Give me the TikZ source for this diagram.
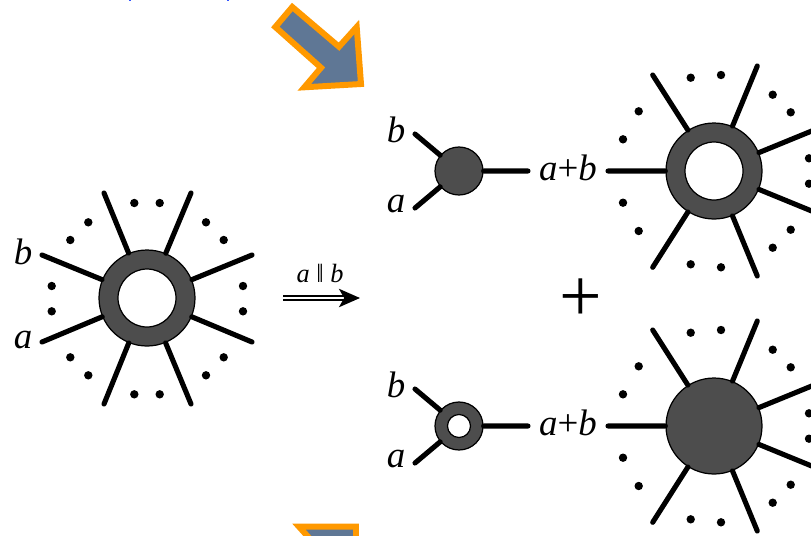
\documentclass[tikz,border=0pt]{standalone}
\usepackage{tikz}
\usepackage{xcolor}
\usepackage{fontspec}
\setmainfont{Liberation Serif}
\usetikzlibrary{arrows.meta}
\definecolor{HubGray}{HTML}{4D4D4D}
\definecolor{BlockOrange}{HTML}{FF9900}
\definecolor{BlockSlate}{HTML}{5F7795}
\definecolor{CutBlue}{HTML}{3355FF}
\tikzset{
    % Node styles
    bighub/.style={
        circle,
        draw=black,
        fill=HubGray,
        line width=0.7pt,
        inner sep=0pt,
        minimum size=1.92cm
    },
    bighole/.style={
        circle,
        draw=black,
        fill=white,
        line width=0.7pt,
        inner sep=0pt,
        minimum size=1.16cm
    },
    smallhub/.style={
        circle,
        draw=black,
        fill=HubGray,
        line width=0.7pt,
        inner sep=0pt,
        minimum size=0.96cm
    },
    smallhole/.style={
        circle,
        draw=black,
        fill=white,
        line width=0.7pt,
        inner sep=0pt,
        minimum size=0.46cm
    },
    legtext/.style={
        font=\fontsize{21}{24}\selectfont,
        inner sep=0pt
    },
    % Line styles
    leg/.style={
        line width=2.9pt,
        line cap=round,
        black
    },
    dot/.style={
        fill=black
    },
    impliesarrow/.style={
        double,
        double distance=1.1pt,
        line width=0.9pt,
        -{Stealth[length=12pt,width=10.5pt,inset=3pt]}
    },
    blockarrow/.style={
        draw=BlockOrange,
        fill=BlockSlate,
        line width=3.4pt
    }
}
\begin{document}
\begin{tikzpicture}[x=0.02cm,y=-0.02cm]
    \clip (0,0) rectangle (811,535);

    % Block arrows
    \filldraw[blockarrow] (292.3,7) -- (275.3,27) -- (321,67.7) -- (304.3,87.3)
        -- (361,84) -- (356.7,27) -- (339,46.7) -- cycle;
    \filldraw[blockarrow] (299,526.7) -- (356,526.7) -- (356,590) -- cycle;

    % Cut off marks at the top edge
    \fill[CutBlue] (129,0) rectangle (131,1);
    \fill[CutBlue] (227,0) rectangle (229,1);

    % Left star
    \node[bighub] (hubL) at (147,298) {};
    \coordinate (legL1) at (42,255);
    \coordinate (legL2) at (42,342);
    \coordinate (legL3) at (104,193);
    \coordinate (legL4) at (191,193);
    \coordinate (legL5) at (252,255);
    \coordinate (legL6) at (252,342);
    \coordinate (legL7) at (104,404);
    \coordinate (legL8) at (191,404);
    \draw[leg] (hubL) -- (legL1) (hubL) -- (legL2) (hubL) -- (legL3) (hubL) -- (legL4)
        (hubL) -- (legL5) (hubL) -- (legL6) (hubL) -- (legL7) (hubL) -- (legL8);
    \node[bighole] (holeL) at (hubL.center) {};
    \fill[dot] (134.3,203) circle (4.2) (159.7,203) circle (4.2)
        (88.3,222.3) circle (4.2) (70.3,240) circle (4.2)
        (51.7,286) circle (4.2) (51.7,311.3) circle (4.2)
        (70.3,357.3) circle (4.2) (88.3,375.3) circle (4.2)
        (134.3,394.3) circle (4.2) (159.7,394.3) circle (4.2)
        (206,222.3) circle (4.2) (223.7,240) circle (4.2)
        (243,286) circle (4.2) (243,311.3) circle (4.2)
        (223.7,357.3) circle (4.2) (206,375.3) circle (4.2);
    \node[legtext] (labelLb) at (23,252) {\textit{b}};
    \node[legtext] (labelLa) at (23,340) {\textit{a}};

    % Limit arrow
    \coordinate (limitstart) at (283,298);
    \coordinate (limitend) at (360,298);
    \draw[impliesarrow] (limitstart) -- (limitend);
    \node[font=\fontsize{15}{17}\selectfont,inner sep=0pt] (limitlabel) at (320,273) {\textit{a} ‖ \textit{b}};

    % Plus
    \node[font=\fontsize{43}{43}\selectfont,inner sep=0pt] (plus) at (581,300) {+};

    % Top small vertex
    \node[smallhub] (smallT) at (459,171) {};
    \coordinate (legTb) at (415,134);
    \coordinate (legTa) at (415,208);
    \coordinate (legTr) at (528,171);
    \draw[leg] (smallT) -- (legTb) (smallT) -- (legTa) (smallT) -- (legTr);
    \node[legtext] (labelTb) at (396,130) {\textit{b}};
    \node[legtext] (labelTa) at (396,204) {\textit{a}};
    \node[legtext] (labelTs) at (568,168) {\textit{a}+\textit{b}};

    % Top star
    \node[bighub] (hubT) at (714,171) {};
    \coordinate (legT1) at (608,171);
    \coordinate (legT2) at (652.7,75);
    \coordinate (legT3) at (757.3,66);
    \coordinate (legT4) at (819,128);
    \coordinate (legT5) at (819,214);
    \coordinate (legT6) at (757.3,276);
    \coordinate (legT7) at (652.7,267.3);
    \draw[leg] (hubT) -- (legT1) (hubT) -- (legT2) (hubT) -- (legT3) (hubT) -- (legT4)
        (hubT) -- (legT5) (hubT) -- (legT6) (hubT) -- (legT7);
    \node[bighole] (holeT) at (hubT.center) {};
    \fill[dot] (690.7,77.7) circle (4.2) (721,75) circle (4.2)
        (772.7,94.7) circle (4.2) (790.7,112.3) circle (4.2)
        (809,158.3) circle (4.2) (809,183.7) circle (4.2)
        (790.7,229.7) circle (4.2) (772.7,247.7) circle (4.2)
        (721,267.3) circle (4.2) (690.7,264.3) circle (4.2)
        (638.7,231) circle (4.2) (623,202.7) circle (4.2)
        (623,139.3) circle (4.2) (638.7,111.3) circle (4.2);

    % Bottom small vertex
    \node[smallhub] (smallB) at (459,426) {};
    \coordinate (legBb) at (415,389);
    \coordinate (legBa) at (415,463);
    \coordinate (legBr) at (528,426);
    \draw[leg] (smallB) -- (legBb) (smallB) -- (legBa) (smallB) -- (legBr);
    \node[smallhole] (holeS) at (smallB.center) {};
    \node[legtext] (labelBb) at (396,385) {\textit{b}};
    \node[legtext] (labelBa) at (396,459) {\textit{a}};
    \node[legtext] (labelBs) at (568,423) {\textit{a}+\textit{b}};

    % Bottom star
    \node[bighub] (hubB) at (714,426) {};
    \coordinate (legB1) at (608,426);
    \coordinate (legB2) at (652.7,330);
    \coordinate (legB3) at (757.3,321);
    \coordinate (legB4) at (819,383);
    \coordinate (legB5) at (819,469);
    \coordinate (legB6) at (757.3,531);
    \coordinate (legB7) at (652.7,522.3);
    \draw[leg] (hubB) -- (legB1) (hubB) -- (legB2) (hubB) -- (legB3) (hubB) -- (legB4)
        (hubB) -- (legB5) (hubB) -- (legB6) (hubB) -- (legB7);
    \fill[dot] (690.7,332.7) circle (4.2) (721,330) circle (4.2)
        (772.7,349.7) circle (4.2) (790.7,367.3) circle (4.2)
        (809,413.3) circle (4.2) (809,438.7) circle (4.2)
        (790.7,484.7) circle (4.2) (772.7,502.7) circle (4.2)
        (721,522.3) circle (4.2) (690.7,519.3) circle (4.2)
        (638.7,486) circle (4.2) (623,457.7) circle (4.2)
        (623,394.3) circle (4.2) (638.7,366.3) circle (4.2);
\end{tikzpicture}
\end{document}
